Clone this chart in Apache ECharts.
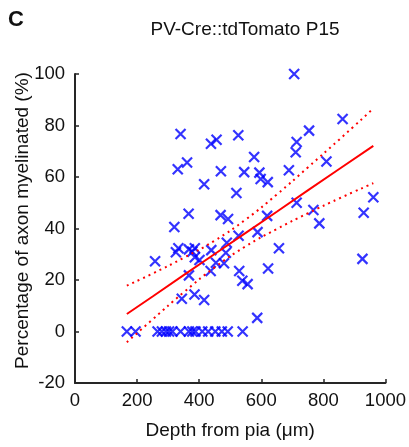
<!DOCTYPE html>
<html lang="en">
<head>
<meta charset="UTF-8">
<title>PV-Cre::tdTomato P15</title>
<script src="https://cdn.jsdelivr.net/npm/echarts@6/dist/echarts.min.js"></script>
<style>
  html, body { margin: 0; padding: 0; background: #fff; }
  #main { width: 409px; height: 447px; }
</style>
</head>
<body>
<div id="main"></div>
<script>
// measured points: [depth (um), % myelinated]
var points = [
  [706, 100], [862, 82.5], [754, 78], [714, 73.6], [711, 69.6], [810, 66], [689, 62.6],
  [340, 76.7], [438, 72.9], [456, 74.5], [526, 76.2], [577, 67.8], [361, 65.6], [331, 63],
  [470, 62.2], [545, 61.9], [594, 61.7], [598, 59.2], [621, 58], [416, 57.2], [520, 53.8],
  [961, 52.1], [714, 50], [768, 47.2], [787, 42], [930, 46.1], [619, 44.9], [588, 38.6],
  [527, 37.2], [657, 32.3], [926, 28.2], [529, 23.5], [622, 24.5], [539, 19.7], [556, 18.4],
  [587, 5.3],
  [366, 45.7], [469, 45.2], [493, 43.7], [320, 40.6], [333, 32.3], [325, 30.8], [367, 31.9],
  [386, 32.3], [378, 31], [439, 31.6], [489, 34.5], [486, 30.6], [386, 28.8], [401, 27.8],
  [258, 27.3], [454, 26.7], [480, 26.5], [437, 23.5], [367, 21.8], [344, 12.7], [385, 14.4],
  [416, 12.2],
  [167, 0], [195, 0], [266, 0], [280, 0], [293, 0], [303, 0], [314, 0], [340, 0], [367, 0],
  [378, 0], [388, 0], [410, 0], [429, 0], [452, 0], [473, 0], [492, 0], [540, 0]
];

// fit line and confidence band
var fitX   = [167, 250, 350, 450, 550, 650, 750, 850, 961];
var fitY   = [6.8, 13.6, 21.9, 30.1, 38.3, 46.5, 54.8, 63.0, 72.1];
var upperY = [17.8, 22.5, 28.6, 35.3, 43.5, 53.2, 63.7, 74.4, 86.6];
var lowerY = [-4.2, 4.7, 15.2, 24.9, 33.1, 39.8, 45.9, 51.6, 57.6];

var xTicks = [0, 200, 400, 600, 800, 1000];
var yTicks = [-20, 0, 20, 40, 60, 80, 100];

function pair(xs, ys) {
    return xs.map(function (x, i) { return [x, ys[i]]; });
}

var font = 'Liberation Sans, Arial, sans-serif';
var axisColor = '#262626';
var textColor = '#111';

var myChart = echarts.init(document.getElementById('main'));

var option = {
    animation: false,
    title: [
        {
            text: 'C',
            left: 3, top: 4,
            textStyle: { fontFamily: font, fontSize: 22, fontWeight: 'bold', color: textColor }
        },
        {
            text: 'PV-Cre::tdTomato P15',
            left: 240, top: 15, textAlign: 'center',
            textStyle: { fontFamily: font, fontSize: 19, fontWeight: 'normal', color: textColor }
        }
    ],
    grid: { left: 75, right: 20.7, top: 74, bottom: 64 },
    xAxis: {
        type: 'value',
        min: xTicks[0], max: xTicks[xTicks.length - 1], interval: 200,
        name: 'Depth from pia (\u03bcm)',
        nameLocation: 'middle', nameGap: 38,
        nameMoveOverlap: false,
        nameTextStyle: { fontFamily: font, fontSize: 19, color: textColor },
        axisLine: { onZero: false, lineStyle: { color: axisColor, width: 2 } },
        axisTick: { inside: true, length: 4, lineStyle: { color: axisColor, width: 1.5 } },
        axisLabel: {
            fontFamily: font, fontSize: 18.5, color: textColor, margin: 8,
            formatter: function (v) { return String(v); }
        },
        splitLine: { show: false }
    },
    yAxis: {
        type: 'value',
        min: yTicks[0], max: yTicks[yTicks.length - 1], interval: 20,
        name: 'Percentage of axon myelinated (%)',
        nameLocation: 'middle', nameGap: 43,
        nameMoveOverlap: false,
        nameTextStyle: { fontFamily: font, fontSize: 19, color: textColor, padding: [0, 0, 0, 16] },
        axisLine: { onZero: false, lineStyle: { color: axisColor, width: 2 } },
        axisTick: { inside: true, length: 4, lineStyle: { color: axisColor, width: 1.5 } },
        axisLabel: { fontFamily: font, fontSize: 18.5, color: textColor, margin: 10 },
        splitLine: { show: false }
    },
    series: [
        {
            type: 'scatter',
            data: points,
            symbol: 'path://M0,0L10,10M10,0L0,10',
            symbolSize: 10,
            itemStyle: { color: 'rgba(0,0,0,0)', borderColor: '#0000ff', borderWidth: 2.2 },
            z: 3
        },
        {
            type: 'line',
            data: pair(fitX, fitY),
            showSymbol: false,
            lineStyle: { color: '#ff0000', width: 2 },
            z: 4
        },
        {
            type: 'line',
            data: pair(fitX, upperY),
            smooth: true,
            showSymbol: false,
            lineStyle: { color: '#ff0000', width: 2, type: [2, 4] },
            z: 4
        },
        {
            type: 'line',
            data: pair(fitX, lowerY),
            smooth: true,
            showSymbol: false,
            lineStyle: { color: '#ff0000', width: 2, type: [2, 4] },
            z: 4
        }
    ]
};

myChart.setOption(option);
</script>
</body>
</html>
